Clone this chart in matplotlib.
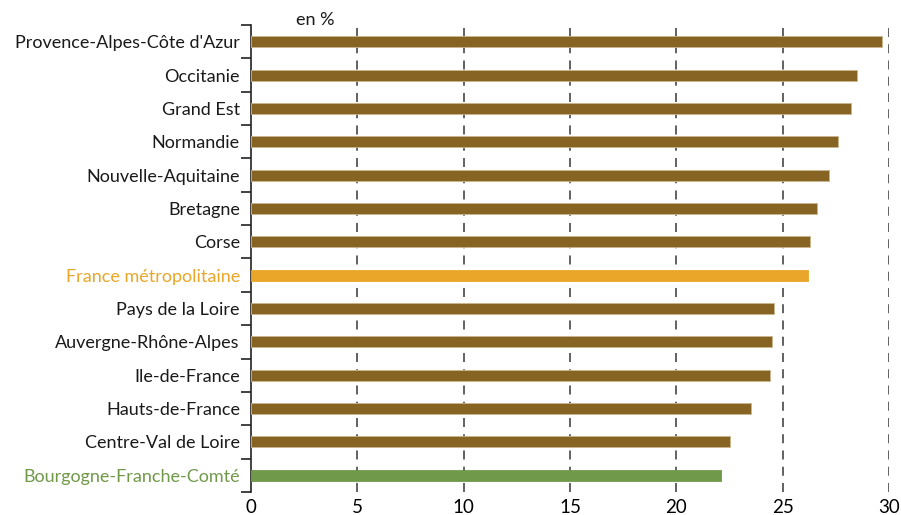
import numpy as np
import matplotlib
matplotlib.use('Agg')
import matplotlib.pyplot as plt
from matplotlib.ticker import FixedLocator

# Share of the population by region, in %
regions = [
    "Provence-Alpes-Côte d'Azur", "Occitanie", "Grand Est", "Normandie",
    "Nouvelle-Aquitaine", "Bretagne", "Corse", "France métropolitaine",
    "Pays de la Loire", "Auvergne-Rhône-Alpes", "Ile-de-France",
    "Hauts-de-France", "Centre-Val de Loire", "Bourgogne-Franche-Comté",
]
values = [29.65, 28.5, 28.2, 27.6, 27.2, 26.6, 26.3, 26.2,
          24.6, 24.5, 24.4, 23.5, 22.5, 22.1]
x_ticks = [0, 5, 10, 15, 20, 25, 30]

BROWN = '#886424'
ORANGE = '#E9A628'
GREEN = '#70994A'
highlight = {"France métropolitaine": ORANGE, "Bourgogne-Franche-Comté": GREEN}

plt.rcParams['font.family'] = ['Lato', 'DejaVu Sans']

fig = plt.figure(figsize=(9.01, 5.15), dpi=100)
ax = fig.add_axes([0.2786, 0.0447, 0.9867 - 0.2786, 0.9515 - 0.0447])

n = len(regions)
ypos = np.arange(n)
colors = [highlight.get(r, BROWN) for r in regions]
ax.barh(ypos, values, height=0.33, color=colors,
        edgecolor=[c if c != BROWN else '#C9B68E' for c in colors],
        linewidth=0.6, zorder=3)

ax.set_ylim(n - 0.5, -0.5)
ax.set_xlim(0, 30)

# dashed vertical gridlines
for t in x_ticks[1:]:
    ax.axvline(t, color='#555555', linestyle=(0, (5, 4)), linewidth=1.3, zorder=1)

ax.set_xticks(x_ticks)
ax.set_xticklabels([str(t) for t in x_ticks], fontsize=13.5)
ax.tick_params(axis='x', length=0, pad=5)

ax.set_yticks(ypos)
ax.set_yticklabels(regions, fontsize=13)
ax.tick_params(axis='y', which='major', length=0, pad=8)
ax.yaxis.set_minor_locator(FixedLocator(np.arange(n + 1) - 0.5))
ax.tick_params(axis='y', which='minor', length=7, width=1.2, color='#222222')
for lbl in ax.get_yticklabels():
    lbl.set_color(highlight.get(lbl.get_text(), '#1a1a1a'))

for side in ['top', 'right', 'bottom']:
    ax.spines[side].set_visible(False)
ax.spines['left'].set_linewidth(1.2)
ax.spines['left'].set_color('#222222')

ax.text(0.07, 1.011, 'en %', transform=ax.transAxes, fontsize=13,
        ha='left', va='center', color='#1a1a1a')

fig.savefig('out.png', dpi=100)
